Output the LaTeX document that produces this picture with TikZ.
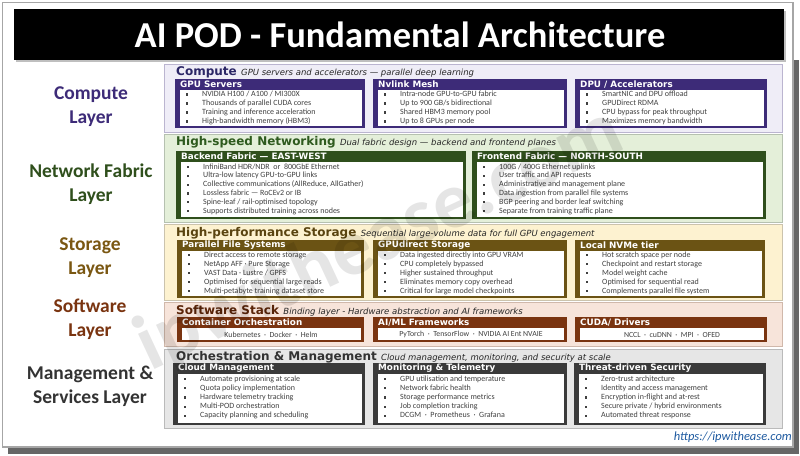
\documentclass[tikz,border=0pt]{standalone}
\usepackage{fontspec}
\setmainfont{Carlito}
\newfontfamily\vfont{DejaVu Sans}
\usetikzlibrary{positioning}
\definecolor{compdark}{HTML}{3D2B78}
\definecolor{complight}{HTML}{EFEDF7}
\definecolor{comptext}{HTML}{2B2666}
\definecolor{netdark}{HTML}{2F4F1C}
\definecolor{netlight}{HTML}{E4EFD9}
\definecolor{nettext}{HTML}{2E5A1E}
\definecolor{stordark}{HTML}{6B5314}
\definecolor{storlight}{HTML}{FDF2D0}
\definecolor{stortext}{HTML}{5A4410}
\definecolor{softdark}{HTML}{7A3410}
\definecolor{softlight}{HTML}{F7E4DA}
\definecolor{softtext}{HTML}{5A2408}
\definecolor{mgmtdark}{HTML}{3A3A3A}
\definecolor{mgmtlight}{HTML}{E6E6E6}
\definecolor{mgmttext}{HTML}{333333}
\definecolor{urlcol}{HTML}{1E5AA0}
\definecolor{itemcol}{HTML}{404040}
\newcommand{\card}[7]{% #1 name, #2 colour, #3 left, #4 top, #5 right, #6 bottom, #7 title
  \fill[#2] (#3,#4) rectangle (#5,#6);
  \fill[white] ({#3+5},{#4+11}) rectangle ({#5-3.5},{#6-2});
  \node[cardtitle] (#1) at ({#3+5},{#4+5.5}) {#7};
}
\newcommand{\items}[5]{% #1 name, #2 card left, #3 first y, #4 line step, #5 list
  \foreach \txt [count=\idx] in {#5} {
    \fill[itemcol] ({#2+11},{#3+(\idx-1)*#4-1.1}) rectangle ++(2.2,2.2);
    \node[item] (#1-\idx) at ({#2+27},{#3+(\idx-1)*#4}) {\txt};
  }
}

\begin{document}
\begin{tikzpicture}[x=1pt,y=-1pt,
    cardtitle/.style={anchor=west, inner sep=0pt, text=white, font=\vfont\bfseries\fontsize{8.8}{10}\selectfont},
    item/.style={anchor=west, inner sep=0pt, text=itemcol, text height=5.5pt, text depth=1.5pt, font=\fontsize{8}{9}\selectfont},
    oneline/.style={inner sep=0pt, text=itemcol, font=\fontsize{7.8}{9}\selectfont},
    head/.style={anchor=base west, inner sep=0pt, font=\vfont\bfseries\fontsize{12}{14}\selectfont},
    sub/.style={anchor=base west, inner sep=0pt, text=black!85, font=\vfont\itshape\fontsize{8.5}{10}\selectfont},
    side/.style={align=center, inner sep=0pt, font=\bfseries\fontsize{19.5}{24}\selectfont}]
  \useasboundingbox (0,0) rectangle (800,455);
  % frame and title
  \fill[black!60] (8,60) rectangle (799,454);
  \draw[draw=black!35, line width=1.2pt, fill=white] (2.5,2.5) rectangle (793,447);
  \fill[black!25] (16,11) rectangle (786,62);
  \fill[black] (14,9) rectangle (784,60);
  \node[text=white, font=\bfseries\fontsize{36.5}{42}\selectfont] (title) at (400,34.5) {AI POD - Fundamental Architecture};

  % layer names
  \node[side, text=compdark] (complabel) at (91,107) {Compute\\Layer};
  \node[side, text=netdark] (netlabel) at (91,184.5) {Network Fabric\\Layer};
  \node[side, text=stordark!90!orange] (storlabel) at (90,257.5) {Storage\\Layer};
  \node[side, text=softdark] (softlabel) at (90,319.5) {Software\\Layer};
  \node[side, text=mgmttext] (mgmtlabel) at (90,386) {Management \&\\Services Layer};

  % compute
  \draw[draw=compdark!35, fill=complight] (164,64) rectangle (782,132);
  \node[head, text=comptext] (comphead) at (176,75.5) {Compute};
  \node[sub] (compsub) at ([xshift=4pt]comphead.base east) {GPU servers and accelerators — parallel deep learning};
  \card{gpu}{compdark}{175}{79}{365}{128}{GPU Servers}
  \items{gpu}{175}{94.5}{9}{NVIDIA H100 / A100 / MI300X, Thousands of parallel CUDA cores, Training and inference acceleration, High-bandwidth memory (HBM3)}
  \card{nvl}{compdark}{373}{79}{567}{128}{Nvlink Mesh}
  \items{nvl}{373}{94.5}{9}{Intra-node GPU-to-GPU fabric, Up to 900 GB/s bidirectional, Shared HBM3 memory pool, Up to 8 GPUs per node}
  \card{dpu}{compdark}{575}{79}{767}{128}{DPU / Accelerators}
  \items{dpu}{575}{94.5}{9}{SmartNIC and DPU offload, GPUDirect RDMA, CPU bypass for peak throughput, Maximizes memory bandwidth}

  % network
  \draw[draw=netdark!35, fill=netlight] (164,134) rectangle (782,222);
  \node[head, text=nettext] (nethead) at (176,145) {High-speed Networking};
  \node[sub] (netsub) at ([xshift=4pt]nethead.base east) {Dual fabric design — backend and frontend planes};
  \card{back}{netdark}{176}{151}{466}{219}{Backend Fabric — EAST-WEST}
  \items{back}{176}{167}{8.8}{InfiniBand HDR/NDR \ or \ 800GbE Ethernet, Ultra-low latency GPU-to-GPU links, {Collective communications (AllReduce, AllGather)}, Lossless fabric — RoCEv2 or IB, Spine-leaf / rail-optimised topology, Supports distributed training across nodes}
  \card{front}{netdark}{472}{151}{766}{219}{Frontend Fabric — NORTH-SOUTH}
  \items{front}{472}{167}{8.8}{100G / 400G Ethernet uplinks, User traffic and API requests, Administrative and management plane, Data ingestion from parallel file systems, BGP peering and border leaf switching, Separate from training traffic plane}

  % storage
  \draw[draw=stordark!35, fill=storlight] (164,224) rectangle (782,300);
  \node[head, text=stortext] (storhead) at (176,236) {High-performance Storage};
  \node[sub] (storsub) at ([xshift=4pt]storhead.base east) {Sequential large-volume data for full GPU engagement};
  \card{pfs}{stordark}{177}{240}{364}{298}{Parallel File Systems}
  \items{pfs}{177}{255}{9}{Direct access to remote storage, NetApp AFF · Pure Storage, VAST Data · Lustre / GPFS, Optimised for sequential large reads, Multi-petabyte training dataset store}
  \card{gds}{stordark}{373}{240}{567}{298}{GPUdirect Storage}
  \items{gds}{373}{255}{9}{Data ingested directly into GPU VRAM, CPU completely bypassed, Higher sustained throughput, Eliminates memory copy overhead, Critical for large model checkpoints}
  \card{nvme}{stordark}{575}{240}{765}{298}{Local NVMe tier}
  \items{nvme}{575}{255}{9}{Hot scratch space per node, Checkpoint and restart storage, Model weight cache, Optimised for sequential read, Complements parallel file system}

  % software
  \draw[draw=softdark!35, fill=softlight] (164,302) rectangle (782,346);
  \node[head, text=softtext] (softhead) at (176,314.5) {Software Stack};
  \node[sub] (softsub) at ([xshift=4pt]softhead.base east) {Binding layer - Hardware abstraction and AI frameworks};
  \card{cont}{softdark}{177}{317}{364}{342}{Container Orchestration}
  \node[oneline] (cont-1) at (271,334.5) {Kubernetes \ · \ Docker \ · \ Helm};
  \card{aiml}{softdark}{373}{317}{567}{342}{AI/ML Frameworks}
  \node[oneline] (aiml-1) at (471,334.5) {PyTorch \ · \ TensorFlow \ · \ NVIDIA AI Ent NVAIE};
  \card{cuda}{softdark}{575}{317}{767}{342}{CUDA/ Drivers}
  \node[oneline] (cuda-1) at (672,334.5) {NCCL \ · \ cuDNN \ · \ MPI \ · \ OFED};

  % management
  \draw[draw=mgmtdark!35, fill=mgmtlight] (164,349) rectangle (782,428);
  \node[head, text=mgmttext] (mgmthead) at (176,360.7) {Orchestration \& Management};
  \node[sub] (mgmtsub) at ([xshift=4pt]mgmthead.base east) {Cloud management, monitoring, and security at scale};
  \card{cloud}{mgmtdark}{173}{363}{365}{425}{Cloud Management}
  \items{cloud}{173}{379}{9.2}{Automate provisioning at scale, Quota policy implementation, Hardware telemetry tracking, Multi-POD orchestration, Capacity planning and scheduling}
  \card{mon}{mgmtdark}{373}{363}{567}{425}{Monitoring \& Telemetry}
  \items{mon}{373}{379}{9.2}{GPU utilisation and temperature, Network fabric health, Storage performance metrics, Job completion tracking, DCGM \ · \ Prometheus \ · \ Grafana}
  \card{sec}{mgmtdark}{574}{363}{766}{425}{Threat-driven Security}
  \items{sec}{574}{379}{9.2}{Zero-trust architecture, Identity and access management, Encryption in-flight and at-rest, Secure private / hybrid environments, Automated threat response}

  % footer and watermark
  \node[anchor=base east, inner sep=0pt, text=urlcol, font=\itshape\fontsize{12.5}{14}\selectfont] (url) at (792,440) {https://ipwithease.com};
  \node[rotate=25, text=black, opacity=0.1, font=\bfseries\fontsize{80}{90}\selectfont] (mark) at (380,240) {ipwithease.com};
\end{tikzpicture}
\end{document}
